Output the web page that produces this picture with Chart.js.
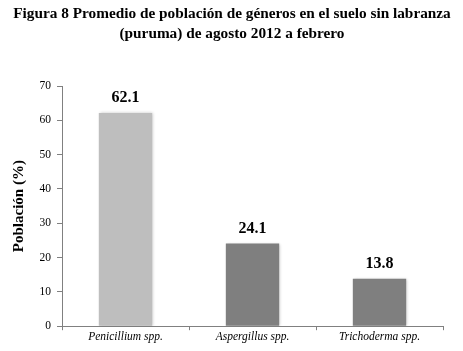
<!DOCTYPE html>
<html><head><meta charset="utf-8">
<script src="https://cdn.jsdelivr.net/npm/chart.js@4"></script>
<style>html,body{margin:0;padding:0;background:#fff}#wrap{width:463px;height:351px;position:relative}</style>
</head><body><div id="wrap"><canvas id="c" width="463" height="351"></canvas></div>
<script>
const titleLines = ["Figura 8 Promedio de población de géneros en el suelo sin labranza", "(puruma) de agosto 2012 a febrero"];
const categories = ["Penicillium spp.", "Aspergillus spp.", "Trichoderma spp."];
const values = [62.1, 24.1, 13.8];
const valueLabels = ["62.1", "24.1", "13.8"];
const barColors = ["#bebebe", "#7f7f7f", "#7f7f7f"];
const yTitle = "Población (%)";
const yMin = 0, yMax = 70, yStep = 10;

const serif = "'Liberation Serif','Times New Roman',serif";

const titlePlugin = {
  id: 'titleDraw',
  afterDraw(chart) {
    const ctx = chart.ctx;
    ctx.save();
    ctx.fillStyle = '#000';
    ctx.font = "bold 15.3px " + serif;
    ctx.textAlign = 'center';
    ctx.textBaseline = 'middle';
    ctx.fillText(titleLines[0], 232, 14);
    ctx.fillText(titleLines[1], 232, 34);
    ctx.restore();
  }
};
const valuePlugin = {
  id: 'valueDraw',
  afterDatasetsDraw(chart) {
    const ctx = chart.ctx;
    const meta = chart.getDatasetMeta(0);
    ctx.save();
    ctx.fillStyle = '#000';
    ctx.font = "bold 16px " + serif;
    ctx.textAlign = 'center';
    ctx.textBaseline = 'bottom';
    meta.data.forEach((bar, i) => {
      ctx.fillText(valueLabels[i], bar.x, bar.y - 7);
    });
    ctx.restore();
  }
};
const shadowPlugin = {
  id: 'shadow',
  beforeDatasetsDraw(chart) {
    const ctx = chart.ctx;
    ctx.save();
    ctx.shadowColor = 'rgba(0,0,0,0.25)';
    ctx.shadowBlur = 3;
    ctx.shadowOffsetX = 1;
    ctx.shadowOffsetY = 0;
  },
  afterDatasetsDraw(chart) { chart.ctx.restore(); }
};

new Chart(document.getElementById('c'), {
  type: 'bar',
  data: {
    labels: categories,
    datasets: [{ data: values, backgroundColor: barColors, borderWidth: 0,
      categoryPercentage: 1.0, barPercentage: 0.42 }]
  },
  options: {
    responsive: false,
    animation: false,
    devicePixelRatio: 1,
    layout: { padding: { left: 8, right: 20, top: 86, bottom: 7 } },
    plugins: { legend: { display: false }, tooltip: { enabled: false }, title: { display: false } },
    scales: {
      x: {
        offset: true,
        grid: { display: true, offset: true, drawOnChartArea: false, drawTicks: true, tickLength: 4, color: '#808080' },
        border: { display: true, color: '#808080', width: 1 },
        ticks: { color: '#000', font: { family: serif, size: 11.5, style: 'italic' }, padding: 0 }
      },
      y: {
        min: yMin, max: yMax,
        afterFit(scale) { scale.width = 54; },
        grid: { display: true, drawOnChartArea: false, drawTicks: true, tickLength: 5, color: '#808080' },
        border: { display: true, color: '#808080', width: 1 },
        ticks: { stepSize: yStep, color: '#000', font: { family: serif, size: 11.5 }, padding: 6 },
        title: { display: true, text: yTitle, color: '#000', font: { family: serif, size: 15, weight: 'bold' }, padding: 2 }
      }
    }
  },
  plugins: [shadowPlugin, valuePlugin, titlePlugin]
});
</script></body></html>
